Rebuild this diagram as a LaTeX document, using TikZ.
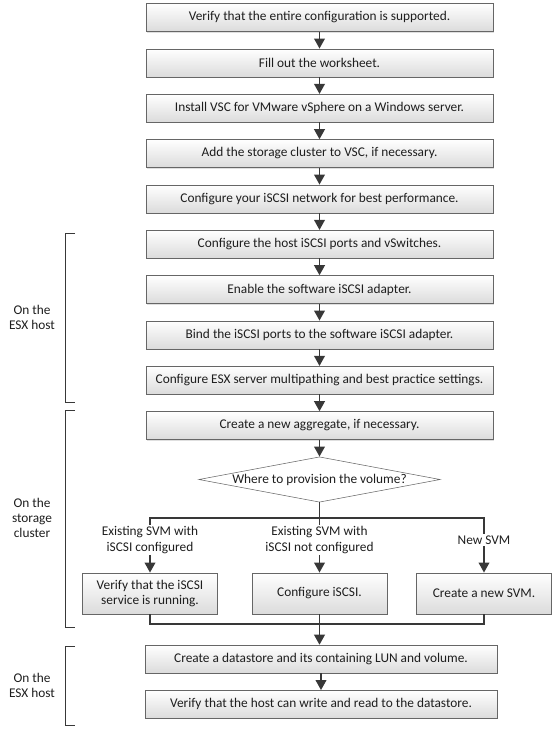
\documentclass[tikz,border=0pt]{standalone}
\usepackage{fontspec}
\setmainfont{Carlito}
\usetikzlibrary{positioning, shapes.geometric, arrows.meta, shadows}

\definecolor{boxline}{HTML}{666666}
\definecolor{flowline}{HTML}{383838}
\definecolor{textgray}{HTML}{1E1E1E}

\begin{document}
\begin{tikzpicture}[x=0.75pt, y=-0.75pt,
  node distance = 12.6pt and 1cm, text centered,
  font=\fontsize{10}{11.3}\selectfont, text=textgray,
 task/.style = {rectangle, draw=boxline, top color=white, bottom color=black!14,
                drop shadow={shadow xshift=0.8pt, shadow yshift=-0.8pt, opacity=0.25},
                minimum width=260pt, minimum height=21pt, inner sep=2pt},
 wide/.style = {minimum width=264pt},
 choice/.style = {task, minimum width=101pt, minimum height=31pt, align=center},
 decide/.style = {diamond, aspect=5.3, draw=boxline, fill=white,
                  minimum width=181pt, minimum height=34pt, inner sep=0pt},
 branch/.style = {align=center, inner sep=1pt},
 link/.style = {draw=flowline, line width=1.2pt},
 arrow/.style = {link, -{Triangle[width=8pt,length=7.5pt]}},
 bracket/.style = {draw=flowline, line width=0.7pt}
                    ]
\useasboundingbox (0,0) rectangle (558,747);
\node (verify)  [task] at (319.5,17.5) {Verify that the entire configuration is supported.};
\node (sheet)   [task, below=of verify]  {Fill out the worksheet.};
\node (vsc)     [task, below=of sheet]   {Install VSC for VMware vSphere on a Windows server.};
\node (cluster) [task, below=of vsc]     {Add the storage cluster to VSC, if necessary.};
\node (network) [task, below=of cluster] {Configure your iSCSI network for best performance.};
\node (ports)   [task, below=of network] {Configure the host iSCSI ports and vSwitches.};
\node (adapter) [task, below=of ports]   {Enable the software iSCSI adapter.};
\node (bind)    [task, below=of adapter] {Bind the iSCSI ports to the software iSCSI adapter.};
\node (multipath) [task, below=of bind]  {Configure ESX server multipathing and best practice settings.};
\node (aggr)    [task, below=of multipath] {Create a new aggregate, if necessary.};
\node (where)   [decide, below=of aggr]  {Where to provision the volume?};

\coordinate (split) at (319.5,518);
\node (withcfg) [branch] at (150,540)   {Existing SVM with\\iSCSI configured};
\node (nocfg)   [branch] at (319.5,540) {Existing SVM with\\iSCSI not configured};
\node (newsvm)  [branch] at (484,540)   {New SVM};
\node (service) [choice] at (150,593.5)   {Verify that the iSCSI\\service is running.};
\node (iscsi)   [choice] at (319.5,593.5) {Configure iSCSI.};
\node (create)  [choice] at (484,593.5)   {Create a new SVM.};
\coordinate (merge) at (319.5,624);

\node (store) [task, wide] at (321,659) {Create a datastore and its containing LUN and volume.};
\node (check) [task, wide, below=of store] {Verify that the host can write and read to the datastore.};

% side labels
\node (esxtop)  at (32,317) [align=center] {On the\\ESX host};
\node (storage) at (32,518) [align=center] {On the\\storage\\cluster};
\node (esxlow)  at (32,685) [align=center] {On the\\ESX host};
\draw [bracket] (75,233) -- (65,233) -- (65,402) -- (75,402);
\draw [bracket] (75,410) -- (65,410) -- (65,627) -- (75,627);
\draw [bracket] (75,646) -- (65,646) -- (65,725) -- (75,725);

% connections
\foreach \a/\b in {verify/sheet, sheet/vsc, vsc/cluster, cluster/network, network/ports,
                   ports/adapter, adapter/bind, bind/multipath, multipath/aggr, aggr/where}
  \draw [arrow] (\a) -- (\b);
\draw [link] (where) -- (split);
\draw [link] (withcfg.north) |- (split) -| (newsvm.north);
\draw [link] (split) -- (nocfg);
\draw [arrow] (withcfg) -- (service);
\draw [arrow] (nocfg) -- (iscsi);
\draw [arrow] (newsvm) -- (create);
\draw [link] (service) |- (merge) -| (create);
\draw [link] (iscsi) -- (merge);
\draw [arrow] (merge) -- (merge |- store.north);
\draw [arrow] (store) -- (check);
\end{tikzpicture}
\end{document}
